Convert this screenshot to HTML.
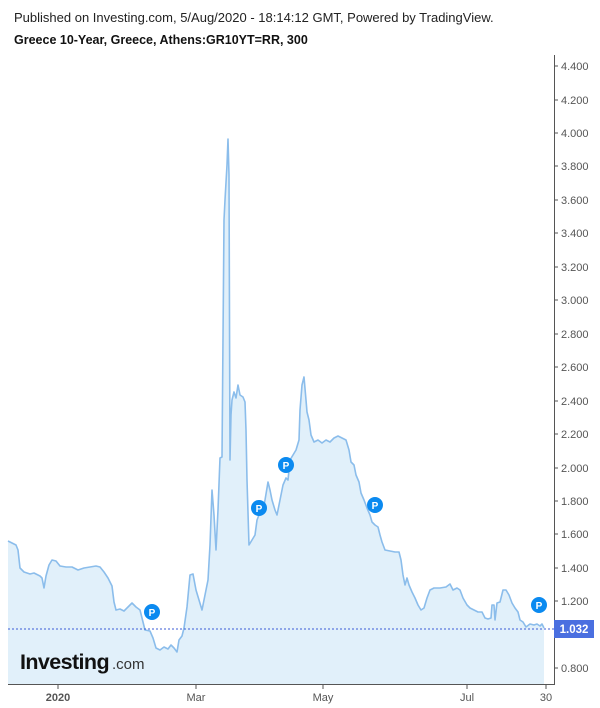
<!DOCTYPE html>
<html><head><style>
body{margin:0;background:#fff;width:600px;height:708px;overflow:hidden;font-family:"Liberation Sans",Arial,sans-serif;}
</style></head><body>
<svg width="600" height="708" xmlns="http://www.w3.org/2000/svg" style="position:absolute;left:0;top:0">
<text x="14" y="22" font-size="13" fill="#222">Published on Investing.com, 5/Aug/2020 - 18:14:12 GMT, Powered by TradingView.</text>
<text x="14" y="44" font-size="12.5" font-weight="bold" fill="#111">Greece 10-Year, Greece, Athens:GR10YT=RR, 300</text>
<path d="M8,541 L12,543 L16,545 L18,550 L20,568 L24,572 L30,574 L34,573 L40,576 L42,578 L44,588 L46,576 L49,565 L52,560 L56,561 L60,566 L66,567 L72,567 L78,570 L84,568 L90,567 L96,566 L100,567 L104,572 L108,578 L112,586 L114,602 L116,610 L120,609 L124,611 L128,607 L132,603 L136,607 L140,610 L142,618 L145,630 L150,631 L153,638 L156,648 L160,650 L164,647 L168,649 L171,645 L174,648 L177,652 L179,640 L182,636 L184,628 L187,607 L190,575 L193,574 L196,590 L199,600 L202,610 L205,595 L208,580 L210,545 L212,490 L214,515 L216,550 L218,510 L220,458 L222,457 L224,220 L225,200 L227,165 L228,139 L229,175 L230,460 L231,415 L232,400 L234,392 L236,398 L238,385 L240,395 L243,397 L245,402 L246,430 L247,480 L249,545 L252,540 L255,535 L257,520 L259,515 L261,505 L263,510 L265,500 L268,482 L270,490 L272,500 L275,510 L277,515 L280,500 L283,485 L286,478 L288,480 L290,460 L293,455 L296,450 L299,440 L300,410 L302,385 L304,377 L306,400 L307,412 L309,420 L311,435 L314,442 L318,440 L322,443 L326,440 L330,442 L334,438 L338,436 L342,438 L346,440 L349,450 L351,462 L354,465 L356,475 L359,482 L361,493 L364,500 L367,508 L370,515 L372,522 L375,525 L378,527 L380,535 L382,542 L385,550 L390,551 L395,552 L399,552 L401,560 L403,575 L405,585 L407,578 L409,585 L412,592 L415,598 L418,605 L421,610 L424,608 L427,598 L430,590 L434,588 L440,588 L446,587 L450,584 L453,590 L457,588 L460,590 L463,598 L467,605 L470,608 L474,610 L478,612 L482,612 L485,618 L488,619 L491,618 L492,605 L494,605 L495,620 L497,603 L500,602 L503,590 L506,590 L509,595 L512,603 L515,608 L518,612 L520,620 L523,622 L526,627 L530,624 L534,625 L537,624 L540,626 L542,624 L544,628 L544,684 L8,684 Z" fill="#e1f0fa" stroke="none"/>
<path d="M8,541 L12,543 L16,545 L18,550 L20,568 L24,572 L30,574 L34,573 L40,576 L42,578 L44,588 L46,576 L49,565 L52,560 L56,561 L60,566 L66,567 L72,567 L78,570 L84,568 L90,567 L96,566 L100,567 L104,572 L108,578 L112,586 L114,602 L116,610 L120,609 L124,611 L128,607 L132,603 L136,607 L140,610 L142,618 L145,630 L150,631 L153,638 L156,648 L160,650 L164,647 L168,649 L171,645 L174,648 L177,652 L179,640 L182,636 L184,628 L187,607 L190,575 L193,574 L196,590 L199,600 L202,610 L205,595 L208,580 L210,545 L212,490 L214,515 L216,550 L218,510 L220,458 L222,457 L224,220 L225,200 L227,165 L228,139 L229,175 L230,460 L231,415 L232,400 L234,392 L236,398 L238,385 L240,395 L243,397 L245,402 L246,430 L247,480 L249,545 L252,540 L255,535 L257,520 L259,515 L261,505 L263,510 L265,500 L268,482 L270,490 L272,500 L275,510 L277,515 L280,500 L283,485 L286,478 L288,480 L290,460 L293,455 L296,450 L299,440 L300,410 L302,385 L304,377 L306,400 L307,412 L309,420 L311,435 L314,442 L318,440 L322,443 L326,440 L330,442 L334,438 L338,436 L342,438 L346,440 L349,450 L351,462 L354,465 L356,475 L359,482 L361,493 L364,500 L367,508 L370,515 L372,522 L375,525 L378,527 L380,535 L382,542 L385,550 L390,551 L395,552 L399,552 L401,560 L403,575 L405,585 L407,578 L409,585 L412,592 L415,598 L418,605 L421,610 L424,608 L427,598 L430,590 L434,588 L440,588 L446,587 L450,584 L453,590 L457,588 L460,590 L463,598 L467,605 L470,608 L474,610 L478,612 L482,612 L485,618 L488,619 L491,618 L492,605 L494,605 L495,620 L497,603 L500,602 L503,590 L506,590 L509,595 L512,603 L515,608 L518,612 L520,620 L523,622 L526,627 L530,624 L534,625 L537,624 L540,626 L542,624 L544,628" fill="none" stroke="#8bbdeb" stroke-width="1.6" stroke-linejoin="round"/>
<line x1="8" y1="629" x2="554" y2="629" stroke="#3b5bd6" stroke-width="1" stroke-dasharray="2,2"/>
<line x1="554.5" y1="55" x2="554.5" y2="685" stroke="#555" stroke-width="1"/>
<line x1="8" y1="684.5" x2="554" y2="684.5" stroke="#555" stroke-width="1"/>
<g font-size="11" fill="#555">
<g stroke="#555"><line x1="554" y1="66" x2="558" y2="66"/><line x1="554" y1="100" x2="558" y2="100"/><line x1="554" y1="133" x2="558" y2="133"/><line x1="554" y1="166" x2="558" y2="166"/><line x1="554" y1="200" x2="558" y2="200"/><line x1="554" y1="233" x2="558" y2="233"/><line x1="554" y1="267" x2="558" y2="267"/><line x1="554" y1="300" x2="558" y2="300"/><line x1="554" y1="334" x2="558" y2="334"/><line x1="554" y1="367" x2="558" y2="367"/><line x1="554" y1="401" x2="558" y2="401"/><line x1="554" y1="434" x2="558" y2="434"/><line x1="554" y1="468" x2="558" y2="468"/><line x1="554" y1="501" x2="558" y2="501"/><line x1="554" y1="534" x2="558" y2="534"/><line x1="554" y1="568" x2="558" y2="568"/><line x1="554" y1="601" x2="558" y2="601"/><line x1="554" y1="668" x2="558" y2="668"/>
<line x1="58" y1="685" x2="58" y2="689"/><line x1="196" y1="685" x2="196" y2="689"/><line x1="323" y1="685" x2="323" y2="689"/><line x1="467" y1="685" x2="467" y2="689"/><line x1="546" y1="685" x2="546" y2="689"/></g>
<text x="561" y="70">4.400</text><text x="561" y="104">4.200</text><text x="561" y="137">4.000</text><text x="561" y="170">3.800</text><text x="561" y="204">3.600</text><text x="561" y="237">3.400</text><text x="561" y="271">3.200</text><text x="561" y="304">3.000</text><text x="561" y="338">2.800</text><text x="561" y="371">2.600</text><text x="561" y="405">2.400</text><text x="561" y="438">2.200</text><text x="561" y="472">2.000</text><text x="561" y="505">1.800</text><text x="561" y="538">1.600</text><text x="561" y="572">1.400</text><text x="561" y="605">1.200</text><text x="561" y="672">0.800</text>
<text x="58" y="701" text-anchor="middle" font-weight="bold">2020</text>
<text x="196" y="701" text-anchor="middle">Mar</text>
<text x="323" y="701" text-anchor="middle">May</text>
<text x="467" y="701" text-anchor="middle">Jul</text>
<text x="546" y="701" text-anchor="middle">30</text>
</g>
<rect x="554" y="620" width="40" height="18" fill="#4a6fe0"/>
<text x="574" y="633" font-size="11.5" font-weight="bold" fill="#fff" text-anchor="middle">1.032</text>
<g font-size="10" font-weight="bold" fill="#fff" text-anchor="middle">
<circle cx="152" cy="612" r="8" fill="#0b8af0"/><text x="152" y="616">P</text>
<circle cx="259" cy="508" r="8" fill="#0b8af0"/><text x="259" y="512">P</text>
<circle cx="286" cy="465" r="8" fill="#0b8af0"/><text x="286" y="469">P</text>
<circle cx="375" cy="505" r="8" fill="#0b8af0"/><text x="375" y="509">P</text>
<circle cx="539" cy="605" r="8" fill="#0b8af0"/><text x="539" y="609">P</text>
</g>
<text x="20" y="669" font-size="21.5" font-weight="bold" fill="#111" letter-spacing="-0.6">Investing</text>
<text x="112" y="669" font-size="15" fill="#333">.com</text>
</svg>
</body></html>
